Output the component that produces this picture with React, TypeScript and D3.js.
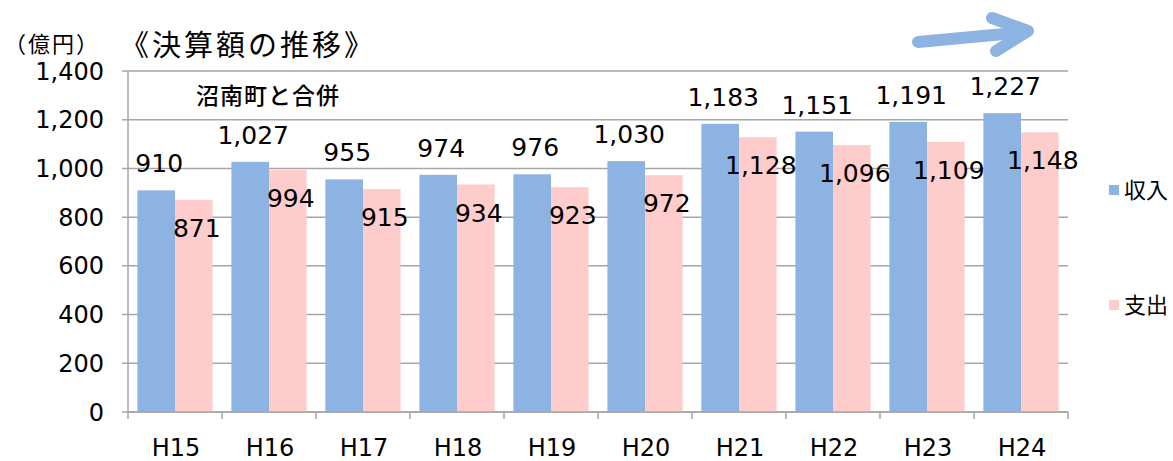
import React from "react";
import * as d3 from "d3";

const categories = ["H15", "H16", "H17", "H18", "H19", "H20", "H21", "H22", "H23", "H24"];
const revenue = [910, 1027, 955, 974, 976, 1030, 1183, 1151, 1191, 1227];
const expenditure = [871, 994, 915, 934, 923, 972, 1128, 1096, 1109, 1148];
const yTicks = [0, 200, 400, 600, 800, 1000, 1200, 1400];
const seriesNames = ["収入", "支出"];
const colors = ["#8DB3E2", "#FFCCCC"];

const W = 1173, H = 461;
const left = 128, right = 1068, top = 71, bottom = 412;
const numFont = "'DejaVu Sans', sans-serif";
const jpFont = "'Noto Sans CJK JP', sans-serif";

export default function App() {
  const x = d3.scaleBand<string>().domain(categories).range([left, right]).paddingInner(0.2).paddingOuter(0.1);
  const y = d3.scaleLinear().domain([0, 1400]).range([bottom, top]);
  const step = x.step();
  const bw = x.bandwidth() / 2;
  const fmt = d3.format(",");

  return (
    <svg width={W} height={H} style={{ position: "absolute", left: 0, top: 0, background: "#fff" }}>
      {yTicks.map((t) => (
        <line key={"g" + t} x1={left - 6} x2={right} y1={y(t)} y2={y(t)} stroke="#A6A6A6" strokeWidth={1.5} />
      ))}
      {categories.map((c, i) => (
        <g key={c}>
          <rect x={x(c)!} y={y(revenue[i])} width={bw} height={bottom - y(revenue[i])} fill={colors[0]} />
          <rect x={x(c)! + bw} y={y(expenditure[i])} width={bw} height={bottom - y(expenditure[i])} fill={colors[1]} />
        </g>
      ))}
      <line x1={left} x2={left} y1={top} y2={bottom} stroke="#A6A6A6" strokeWidth={1.5} />
      <line x1={left} x2={right} y1={bottom} y2={bottom} stroke="#A6A6A6" strokeWidth={1.5} />
      {categories.map((c, i) => (
        <line key={"xt" + c} x1={left + i * step} x2={left + i * step} y1={bottom} y2={bottom + 7} stroke="#A6A6A6" strokeWidth={1.5} />
      ))}
      <line x1={right} x2={right} y1={bottom} y2={bottom + 7} stroke="#A6A6A6" strokeWidth={1.5} />
      {yTicks.map((t) => (
        <text key={"yl" + t} x={104} y={y(t)} dy="0.36em" textAnchor="end" fontFamily={numFont} fontSize={24} fill="#000">
          {fmt(t)}
        </text>
      ))}
      {categories.map((c) => (
        <text key={"xl" + c} x={x(c)! + x.bandwidth() / 2 + 1} y={456} textAnchor="middle" fontFamily={numFont} fontSize={24} fill="#000">
          {c}
        </text>
      ))}
      {categories.map((c, i) => (
        <g key={"vl" + c}>
          <text x={x(c)! + bw / 2 + 3} y={y(revenue[i]) - 18} textAnchor="middle" fontFamily={numFont} fontSize={25} fill="#000">
            {fmt(revenue[i])}
          </text>
          <text x={x(c)! + bw * 1.5 + 3} y={y(expenditure[i]) + 37} textAnchor="middle" fontFamily={numFont} fontSize={25} fill="#000">
            {fmt(expenditure[i])}
          </text>
        </g>
      ))}
      <text x={4} y={52} fontFamily={jpFont} fontSize={22} letterSpacing={2} fill="#000">（億円）</text>
      <text x={120} y={56} fontFamily={jpFont} fontSize={29} letterSpacing={3} fill="#000">《決算額の推移》</text>
      <text x={196} y={104} fontFamily={jpFont} fontSize={23} fontWeight={500} letterSpacing={1} fill="#000">沼南町と合併</text>
      {seriesNames.map((s, i) => (
        <g key={"lg" + s}>
          <rect x={1109} y={i === 0 ? 185 : 300} width={10} height={10} fill={colors[i]} />
          <text x={1124} y={i === 0 ? 198 : 313} fontFamily={jpFont} fontSize={22} fill="#000">{s}</text>
        </g>
      ))}
      <g stroke="#8DB3E2" strokeWidth={12} strokeLinecap="round" strokeLinejoin="round" fill="none">
        <line x1={918} y1={42} x2={1026} y2={32} />
        <polyline points="992,18 1028,31 996,51" />
      </g>
    </svg>
  );
}
